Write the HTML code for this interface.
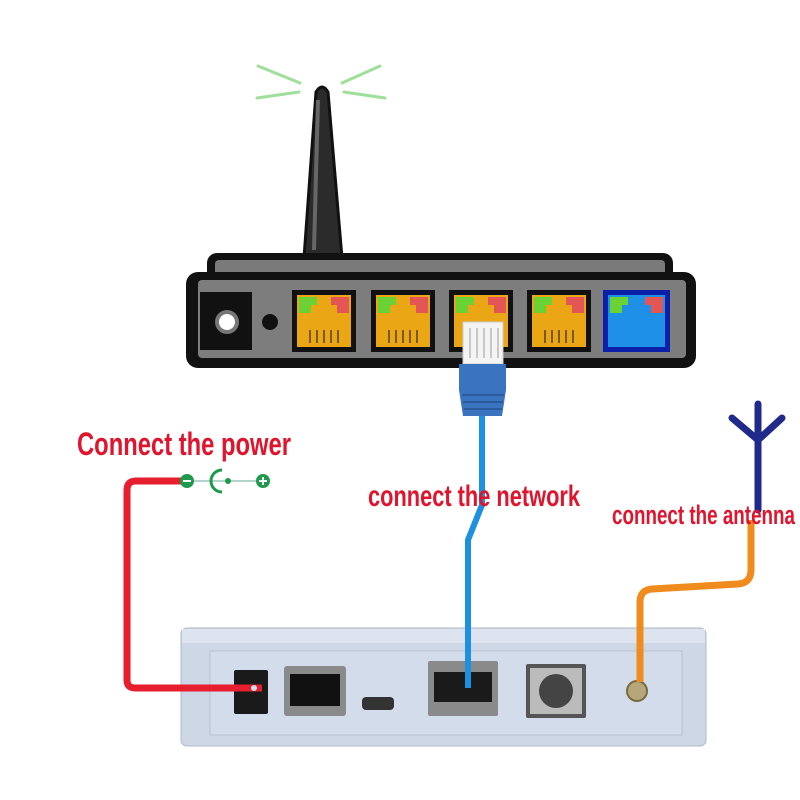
<!DOCTYPE html>
<html><head><meta charset="utf-8"><style>html,body{margin:0;padding:0;background:#fff}svg{display:block}</style></head>
<body>
<svg width="800" height="800" viewBox="0 0 800 800" xmlns="http://www.w3.org/2000/svg">
<rect width="800" height="800" fill="#fff"/>
<g stroke="#9ee09a" stroke-width="3" stroke-linecap="round">
<line x1="258" y1="66" x2="300" y2="83"/><line x1="257" y1="98" x2="299" y2="92"/>
<line x1="380" y1="66" x2="342" y2="83"/><line x1="385" y1="98" x2="344" y2="92"/>
</g>
<path d="M304 258 L316 92 Q322 82 328 92 L342 258 Z" fill="#2b2b2b" stroke="#111" stroke-width="3"/>
<path d="M318 100 L314 250" stroke="#666" stroke-width="4"/>
<rect x="207" y="253" width="466" height="30" rx="10" fill="#111"/>
<rect x="215" y="260" width="450" height="18" rx="4" fill="#7a7a7a"/>
<rect x="186" y="272" width="510" height="96" rx="12" fill="#111"/>
<rect x="198" y="280" width="488" height="78" rx="4" fill="#7d7d7d"/>
<rect x="200" y="292" width="52" height="58" fill="#111"/>
<circle cx="227" cy="322" r="12" fill="#777"/><circle cx="227" cy="322" r="8" fill="#fff"/>
<circle cx="270" cy="322" r="8" fill="#111"/>
<g id="p">
<rect x="292" y="290" width="64" height="62" fill="#111"/>
<rect x="297" y="295" width="54" height="52" fill="#eaa614"/>
<path d="M299 297 h18 v8 h-6 v8 h-12z" fill="#6ad234"/>
<path d="M349 297 h-18 v8 h6 v8 h12z" fill="#e45555"/>
<g stroke="#7a5a10" stroke-width="2"><line x1="310" y1="330" x2="310" y2="343"/><line x1="317" y1="330" x2="317" y2="343"/><line x1="324" y1="330" x2="324" y2="343"/><line x1="331" y1="330" x2="331" y2="343"/><line x1="338" y1="330" x2="338" y2="343"/></g>
</g>
<use href="#p" x="79"/><use href="#p" x="157"/><use href="#p" x="235"/>
<rect x="603" y="290" width="67" height="62" fill="#0b1fa8"/>
<rect x="608" y="295" width="57" height="52" fill="#1e90e8"/>
<path d="M610 297 h18 v8 h-6 v8 h-12z" fill="#6ad234"/>
<path d="M663 297 h-18 v8 h6 v8 h12z" fill="#e45555"/>
<rect x="463" y="322" width="40" height="42" fill="#f4f4f4" stroke="#ccc"/>
<g stroke="#bbb" stroke-width="1.5"><line x1="470" y1="328" x2="470" y2="358"/><line x1="477" y1="328" x2="477" y2="358"/><line x1="484" y1="328" x2="484" y2="358"/><line x1="491" y1="328" x2="491" y2="358"/><line x1="498" y1="328" x2="498" y2="358"/></g>
<path d="M459 364 h47 v26 l-4 26 h-39 l-4 -26z" fill="#3a74c0"/>
<g stroke="#2a5a9a" stroke-width="2"><line x1="462" y1="395" x2="504" y2="395"/><line x1="463" y1="402" x2="503" y2="402"/><line x1="464" y1="409" x2="502" y2="409"/></g>
<!-- device -->
<rect x="181" y="628" width="525" height="118" rx="6" fill="#cdd7e6" stroke="#aeb8c8"/>
<rect x="182" y="629" width="523" height="14" fill="#dde4ef"/>
<rect x="210" y="651" width="472" height="84" fill="#d3dcea" stroke="#b8c2d2"/>
<rect x="234" y="670" width="34" height="44" rx="2" fill="#1a1a1a"/>
<rect x="284" y="666" width="62" height="50" rx="3" fill="#8a8a8a"/><rect x="290" y="674" width="50" height="32" fill="#111"/>
<rect x="362" y="697" width="32" height="13" rx="4" fill="#333"/>
<rect x="428" y="661" width="70" height="55" rx="2" fill="#8a8a8a"/><rect x="434" y="672" width="58" height="30" fill="#1a1a1a"/>
<rect x="526" y="664" width="60" height="54" rx="2" fill="#555"/><rect x="530" y="668" width="52" height="46" fill="#bbb"/>
<circle cx="556" cy="691" r="17" fill="#444"/>
<circle cx="637" cy="691" r="10" fill="#b5a77a" stroke="#776a40" stroke-width="2"/>
<!-- cables over device -->
<path d="M482 416 L482 505 L468 540 L468 688" fill="none" stroke="#1e90e0" stroke-width="6"/>
<path d="M262 688 L135 688 Q127 688 127 680 L127 490 Q127 481 136 481 L183 481" fill="none" stroke="#e61e2e" stroke-width="7"/>
<circle cx="254" cy="688" r="3" fill="#cde"/>
<g fill="#1d9a4a" stroke="#1d9a4a">
<circle cx="187" cy="481" r="7" stroke="none"/><rect x="183" y="480" width="8" height="2" fill="#fff" stroke="none"/>
<line x1="194" y1="481" x2="258" y2="481" stroke-width="1" stroke="#6a9"/>
<path d="M222 470 A11 11 0 0 0 222 492" fill="none" stroke-width="3"/>
<circle cx="228" cy="481" r="3" stroke="none"/>
<circle cx="263" cy="481" r="7" stroke="none"/>
<rect x="259" y="480" width="8" height="2" fill="#fff" stroke="none"/><rect x="262" y="477" width="2" height="8" fill="#fff" stroke="none"/>
</g>
<path d="M640 682 L640 602 Q640 590 652 589 L738 584 Q751 583 751 570 L751 520" fill="none" stroke="#f08c1e" stroke-width="7"/>
<g stroke="#1f2a8a" stroke-width="7" fill="none" stroke-linecap="round">
<line x1="758" y1="404" x2="758" y2="510"/><path d="M732 418 L758 440 L782 418"/>
</g>
<g font-family="Liberation Sans, sans-serif" font-weight="bold" fill="#e0142c">
<text x="77" y="455" font-size="32" textLength="214" lengthAdjust="spacingAndGlyphs">Connect the power</text>
<text x="368" y="506" font-size="30" textLength="212" lengthAdjust="spacingAndGlyphs">connect the network</text>
<text x="612" y="524" font-size="27" textLength="183" lengthAdjust="spacingAndGlyphs">connect the antenna</text>
</g>
</svg>
</body></html>
